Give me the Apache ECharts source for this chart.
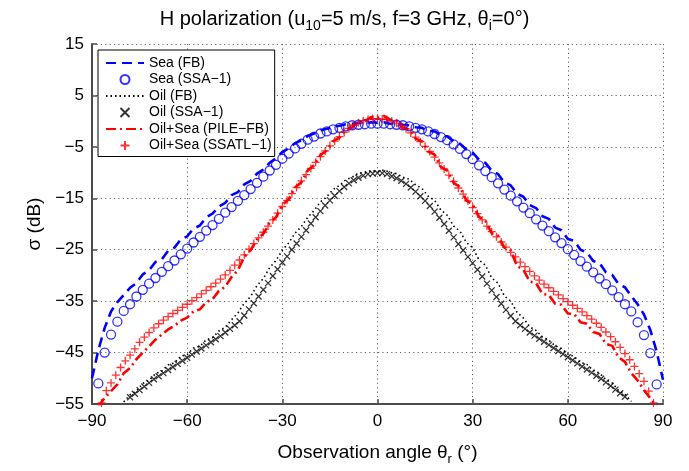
<!DOCTYPE html>
<html><head><meta charset="utf-8">
<script src="https://cdn.jsdelivr.net/npm/echarts@6/dist/echarts.min.js"></script>
<style>html,body{margin:0;padding:0;background:#fff}#c{width:689px;height:471px}</style>
</head><body><div id="c"></div>
<script>
// angle grids (degrees)
const theta2 = [-90,-88,-86,-84,-82,-80,-78,-76,-74,-72,-70,-68,-66,-64,-62,-60,-58,-56,-54,-52,-50,-48,-46,-44,-42,-40,-38,-36,-34,-32,-30,-28,-26,-24,-22,-20,-18,-16,-14,-12,-10,-8,-6,-4,-2,0,2,4,6,8,10,12,14,16,18,20,22,24,26,28,30,32,34,36,38,40,42,44,46,48,50,52,54,56,58,60,62,64,66,68,70,72,74,76,78,80,82,84,86,88,90];
const thetaFine = [-87,-85.5,-84,-82.5,-81,-79.5,-78,-76.5,-75,-73.5,-72,-70.5,-69,-67.5,-66,-64.5,-63,-61.5,-60,-58.5,-57,-55.5,-54,-52.5,-51,-49.5,-48,-46.5,-45,-43.5,-42,-40.5,-39,-37.5,-36,-34.5,-33,-31.5,-30,-28.5,-27,-25.5,-24,-22.5,-21,-19.5,-18,-16.5,-15,-13.5,-12,-10.5,-9,-7.5,-6,-4.5,-3,-1.5,0,1.5,3,4.5,6,7.5,9,10.5,12,13.5,15,16.5,18,19.5,21,22.5,24,25.5,27,28.5,30,31.5,33,34.5,36,37.5,39,40.5,42,43.5,45,46.5,48,49.5,51,52.5,54,55.5,57,58.5,60,61.5,63,64.5,66,67.5,69,70.5,72,73.5,75,76.5,78,79.5,81,82.5,84,85.5,87];

// Sea (FB) on theta2
const seaFB = [-50.0,-44.5,-40.2,-37.0,-35.2,-33.8,-32.4,-31.5,-29.8,-29.0,-27.4,-26.9,-25.2,-24.6,-23.0,-22.4,-20.9,-20.3,-18.7,-18.0,-16.6,-15.9,-14.4,-13.8,-12.3,-11.6,-10.2,-9.4,-8.1,-7.2,-6.0,-5.3,-4.3,-3.7,-2.9,-2.4,-1.8,-1.5,-1.1,-0.9,-0.6,-0.5,-0.3,-0.4,-0.2,-0.3,-0.2,-0.5,-0.4,-0.7,-0.8,-1.2,-1.3,-1.9,-2.0,-2.7,-3.0,-3.9,-4.4,-5.5,-6.1,-7.5,-8.1,-9.6,-10.3,-11.9,-12.5,-14.1,-14.7,-16.3,-16.9,-18.5,-19.0,-20.7,-21.2,-22.9,-23.3,-25.0,-25.5,-27.2,-27.6,-29.4,-29.9,-31.7,-32.3,-34.0,-35.6,-37.6,-40.6,-44.8,-50.3];
// Sea (SSA-1) on theta2
const seaSSA = [null,-51.0,-45.0,-41.5,-39.0,-36.9,-35.6,-34.1,-32.8,-31.6,-30.5,-29.3,-28.2,-27.1,-25.9,-24.8,-23.6,-22.5,-21.3,-20.2,-19.0,-17.8,-16.7,-15.5,-14.4,-13.2,-12.0,-10.8,-9.6,-8.5,-7.3,-6.3,-5.3,-4.4,-3.6,-3.0,-2.4,-2.0,-1.6,-1.3,-1.0,-0.8,-0.7,-0.6,-0.5,-0.5,-0.5,-0.6,-0.7,-0.8,-1.0,-1.3,-1.6,-2.0,-2.5,-3.1,-3.7,-4.5,-5.4,-6.4,-7.4,-8.6,-9.7,-10.9,-12.1,-13.3,-14.5,-15.6,-16.8,-17.9,-19.1,-20.3,-21.4,-22.6,-23.7,-24.9,-26.0,-27.2,-28.3,-29.4,-30.6,-31.7,-32.9,-34.2,-35.6,-37.0,-39.1,-41.6,-45.1,-51.2,null];
// Oil (FB) on theta2
const oilFB = [null,null,null,null,null,-54.6,-53.2,-52.5,-51.0,-50.4,-49.1,-48.6,-47.4,-47.0,-45.7,-45.4,-44.1,-43.8,-42.5,-42.1,-40.8,-40.1,-38.6,-37.3,-35.4,-34.1,-32.0,-30.6,-28.5,-27.1,-25.1,-23.7,-21.8,-20.5,-18.7,-17.4,-15.7,-14.7,-13.3,-12.5,-11.4,-10.9,-10.1,-10.0,-9.6,-9.8,-9.5,-10.0,-10.2,-10.9,-11.3,-12.4,-13.1,-14.6,-15.4,-17.3,-18.3,-20.4,-21.4,-23.6,-24.6,-27.0,-28.0,-30.5,-31.5,-34.0,-35.0,-37.2,-38.3,-40.0,-40.7,-42.0,-42.6,-43.7,-44.2,-45.3,-45.8,-46.9,-47.3,-48.5,-49.0,-50.3,-50.9,-52.4,-53.1,-54.5,null,null,null,null,null];
// Oil (SSA-1) on thetaFine
const oilSSA = [null,null,null,null,null,null,-53.7,-53.0,-52.3,-51.6,-50.9,-50.2,-49.6,-49.0,-48.4,-47.8,-47.2,-46.6,-46.0,-45.4,-44.8,-44.2,-43.6,-43.0,-42.4,-41.8,-41.1,-40.4,-39.7,-38.9,-37.8,-36.6,-35.4,-34.1,-32.8,-31.5,-30.1,-28.8,-27.5,-26.3,-25.0,-23.8,-22.5,-21.2,-19.9,-18.7,-17.5,-16.4,-15.4,-14.5,-13.6,-12.8,-12.1,-11.5,-11.0,-10.6,-10.3,-10.2,-10.1,-10.1,-10.3,-10.7,-11.1,-11.6,-12.2,-12.9,-13.7,-14.6,-15.5,-16.5,-17.6,-18.8,-20.0,-21.3,-22.6,-23.9,-25.1,-26.4,-27.6,-28.9,-30.2,-31.6,-32.9,-34.2,-35.5,-36.7,-37.9,-38.9,-39.7,-40.4,-41.1,-41.7,-42.3,-42.9,-43.5,-44.1,-44.7,-45.3,-45.9,-46.5,-47.1,-47.7,-48.3,-48.9,-49.5,-50.1,-50.8,-51.5,-52.2,-52.9,-53.6,null,null,null,null,null,null];
// Oil+Sea (PILE-FB) on theta2
const mixPILE = [null,-55.5,-53.8,-52.5,-51.2,-49.0,-48.0,-46.3,-45.0,-43.8,-42.5,-41.5,-40.5,-39.8,-38.8,-38.2,-37.0,-36.6,-35.2,-34.6,-33.0,-32.2,-30.3,-29.0,-26.4,-25.1,-23.0,-21.9,-19.8,-18.7,-16.3,-15.2,-12.9,-11.9,-9.6,-8.6,-6.6,-5.7,-3.9,-3.2,-1.7,-1.2,-0.1,0.0,0.8,0.6,1.0,0.3,0.1,-1.3,-1.6,-3.4,-3.9,-5.9,-6.5,-8.9,-9.6,-12.0,-12.8,-15.4,-16.2,-18.6,-19.4,-21.8,-22.3,-24.6,-25.1,-28.2,-28.9,-31.2,-31.5,-33.6,-33.8,-35.5,-35.7,-37.4,-37.5,-39.1,-39.4,-41.0,-41.4,-43.3,-43.7,-45.9,-46.8,-49.0,-50.4,-52.3,-53.9,-55.5,null];
// Oil+Sea (SSATL-1) on thetaFine
const mixSSATL = [-54.8,-52.4,-50.9,-49.4,-47.9,-46.6,-45.5,-44.3,-43.0,-42.0,-41.1,-40.2,-39.4,-38.7,-38.0,-37.4,-36.8,-36.2,-35.6,-34.9,-34.3,-33.6,-32.9,-32.2,-31.5,-30.7,-29.9,-29.0,-28.0,-27.0,-26.0,-24.9,-23.8,-22.7,-21.6,-20.4,-19.2,-17.9,-16.6,-15.4,-14.1,-12.9,-11.6,-10.4,-9.2,-8.0,-6.9,-5.8,-4.8,-3.9,-3.0,-2.2,-1.4,-0.8,-0.3,0.1,0.3,0.5,0.5,0.4,0.3,0.0,-0.4,-0.9,-1.5,-2.3,-3.1,-4.0,-4.9,-5.9,-7.0,-8.1,-9.3,-10.5,-11.7,-13.0,-14.2,-15.5,-16.8,-18.0,-19.2,-20.4,-21.5,-22.5,-23.5,-24.5,-25.5,-26.4,-27.4,-28.3,-29.2,-30.1,-30.9,-31.7,-32.4,-33.1,-33.8,-34.5,-35.1,-35.8,-36.4,-37.1,-37.8,-38.5,-39.3,-40.1,-41.0,-41.9,-42.9,-44.0,-45.2,-46.4,-47.7,-49.1,-50.6,-52.5,-54.8];

const xTicks = [-90,-60,-30,0,30,60,90];
const yTicks = [-55,-45,-35,-25,-15,-5,5,15];

function pairs(xs, ys){
  if (xs.length !== ys.length) console.error('length mismatch', xs.length, ys.length);
  const out = [];
  for (let i=0;i<xs.length;i++){ if (ys[i]!==null && ys[i]!==undefined) out.push([xs[i], ys[i]]); }
  return out;
}
const F = "'Liberation Sans', Arial, Helvetica, sans-serif";
const minus = v => String(v).replace('-', '\u2212');
const AX = '#4d4d4d';
const CROSS = 'path://M0,0L10,10M10,0L0,10';
const PLUS = 'path://M5,0L5,10M0,5L10,5';

const chart = echarts.init(document.getElementById('c'), null, {renderer:'canvas'});
chart.setOption({
  animation:false,
  backgroundColor:'#fff',
  title:{
    text:'{a|H polarization (u}{s|10}{a|=5 m/s, f=3 GHz, θ}{s|i}{a|=0°)}',
    left:'center', top:0,
    textStyle:{fontWeight:'normal', rich:{
      a:{fontSize:20, fontFamily:F, fontWeight:'normal', color:'#000', lineHeight:28},
      s:{fontSize:14, fontFamily:F, fontWeight:'normal', color:'#000', lineHeight:14, verticalAlign:'bottom'}
    }}
  },
  grid:{left:92, right:26, top:44, bottom:62},
  legend:{
    orient:'vertical', left:98, top:50, padding:[5,3,3,7], itemGap:0.5,
    itemWidth:38, itemHeight:9, borderColor:'#000', borderWidth:1, backgroundColor:'#fff',
    textStyle:{fontSize:14, fontFamily:F, color:'#000', lineHeight:16},
    data:[
      {name:'Sea (FB)', itemStyle:{opacity:0}},
      'Sea (SSA\u22121)',
      {name:'Oil (FB)', itemStyle:{opacity:0}},
      'Oil (SSA\u22121)',
      {name:'Oil+Sea (PILE\u2212FB)', itemStyle:{opacity:0}},
      'Oil+Sea (SSATL\u22121)'
    ]
  },
  xAxis:{
    type:'value', min:-90, max:90, interval:30,
    name:'{a|Observation angle θ}{s|r}{a| (°)}', nameLocation:'middle', nameGap:36,
    nameTextStyle:{rich:{
      a:{fontSize:19, fontFamily:F, color:'#000', lineHeight:26},
      s:{fontSize:13, fontFamily:F, color:'#000', lineHeight:13, verticalAlign:'bottom'}
    }},
    axisLine:{show:true, onZero:false, lineStyle:{color:AX, width:2}},
    axisTick:{show:true, inside:true, length:5, lineStyle:{color:AX, width:1.5}},
    axisLabel:{fontSize:17, fontFamily:F, color:'#000', margin:9, formatter:minus},
    splitLine:{show:true, lineStyle:{color:'#666', width:1, type:[1.2,3.2]}}
  },
  yAxis:{
    type:'value', min:-55, max:15, interval:10,
    name:'σ (dB)', nameLocation:'middle', nameGap:48, nameRotate:90,
    nameTextStyle:{fontSize:19, fontFamily:F, color:'#000'},
    axisLine:{show:true, onZero:false, lineStyle:{color:AX, width:2}},
    axisTick:{show:true, inside:true, length:5, lineStyle:{color:AX, width:1.5}},
    axisLabel:{fontSize:17, fontFamily:F, color:'#000', margin:8, formatter:minus},
    splitLine:{show:true, lineStyle:{color:'#666', width:1, type:[1.2,3.2]}}
  },
  series:[
    {name:'Sea (FB)', type:'line', data:pairs(theta2, seaFB), symbol:'none', color:'#0000ff',
     lineStyle:{color:'#0000ff', width:2.6, type:[10,6]}, z:3},
    {name:'Sea (SSA\u22121)', type:'scatter', data:pairs(theta2, seaSSA), symbol:'circle', symbolSize:9,
     itemStyle:{color:'rgba(255,255,255,0)', borderColor:'#0000ff', borderWidth:1.3}, z:4},
    {name:'Oil (FB)', type:'line', data:pairs(theta2, oilFB), symbol:'none', color:'#000',
     lineStyle:{color:'#000', width:1.6, type:[1.5,3]}, z:3},
    {name:'Oil (SSA\u22121)', type:'scatter', data:pairs(thetaFine, oilSSA), symbol:CROSS, symbolSize:6,
     itemStyle:{color:'none', borderColor:'#000', borderWidth:1.3}, z:4},
    {name:'Oil+Sea (PILE\u2212FB)', type:'line', data:pairs(theta2, mixPILE), symbol:'none', color:'#ff0000',
     lineStyle:{color:'#ff0000', width:2.6, type:[10,4,2,4]}, z:3},
    {name:'Oil+Sea (SSATL\u22121)', type:'scatter', data:pairs(thetaFine, mixSSATL), symbol:PLUS, symbolSize:8,
     itemStyle:{color:'none', borderColor:'#ff0000', borderWidth:1.3}, z:4}
  ]
});
</script>
</body></html>
